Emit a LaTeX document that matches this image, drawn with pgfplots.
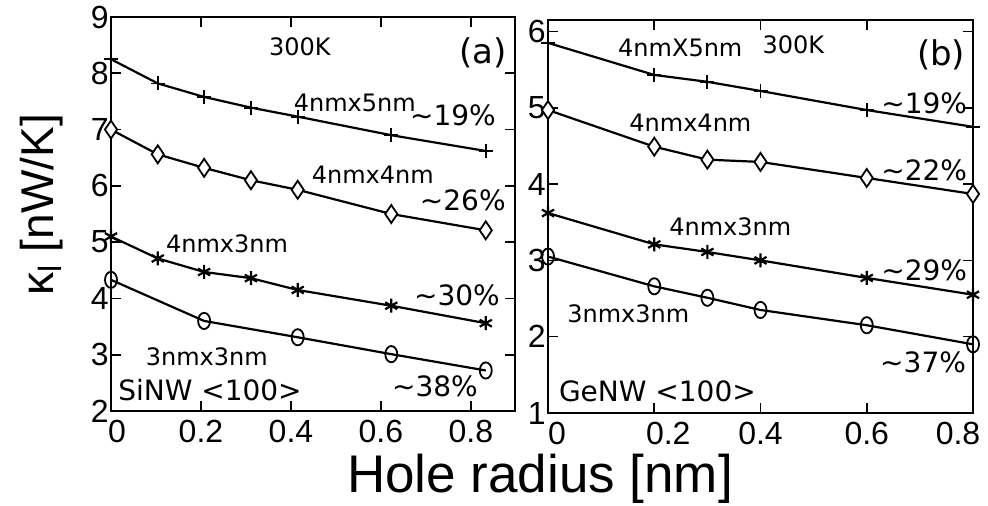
\documentclass[border=0pt]{standalone}
\usepackage{pgfplots}
\pgfplotsset{compat=1.18}
\usepackage{fontspec}
\setmainfont{Liberation Sans}
\newfontfamily\dv{DejaVu Sans}

\pgfplotsset{
  panel/.style={scale only axis, clip=false,
    axis line style={line width=1pt}, tick style={black, line width=0.8pt},
    major tick length=5pt,
    tick label style={font=\fontsize{16}{16}\selectfont},
    yticklabel style={inner sep=1pt},
    xticklabel style={inner sep=0.5pt, yshift=-4pt},
    /pgf/number format/assume math mode=true,
    xtick={0,0.2,0.4,0.6,0.8}},
  pl/.style={black, line width=1.1pt},
  mk/.style={mark options={solid, line width=0.9pt, fill=white, #1}},
  mk/.default={},
}
\tikzset{
  ann/.style={font=\dv\fontsize{12}{12}\selectfont},
  pct/.style={font=\dv\fontsize{14}{14}\selectfont},
}
\newcommand{\gap}[1]{\rule{#1}{0pt}}

\begin{document}
\begin{tikzpicture}
\useasboundingbox (0,0) rectangle (494pt,-253pt);

% (a) SiNW
\begin{axis}[panel, at={(55.5pt,-205.5pt)}, anchor=south west,
  width=202pt, height=197pt, xmin=0, xmax=0.898, ymin=2, ymax=9, ytick={2,3,...,9},
  xticklabels={\gap{6pt}0,0.2,0.4,0.6,0.8}]
\addplot[pl, mark=+, mark size=3.5pt, mk] coordinates {(0,8.25) (0.104,7.82) (0.207,7.58) (0.311,7.39) (0.415,7.23) (0.623,6.90) (0.833,6.62)};
\addplot[pl, mark=diamond*, mark size=4.5pt, mk={xscale=0.9}] coordinates {(0,7.00) (0.104,6.56) (0.207,6.32) (0.311,6.10) (0.415,5.93) (0.623,5.50) (0.833,5.21)};
\addplot[pl, mark=asterisk, mark size=3.5pt, mk={line width=1.1pt}] coordinates {(0,5.10) (0.104,4.71) (0.207,4.47) (0.311,4.36) (0.415,4.15) (0.623,3.87) (0.833,3.56)};
\addplot[pl, mark=o, mark size=3pt, mk={yscale=1.35}] coordinates {(0,4.33) (0.207,3.60) (0.415,3.31) (0.623,3.01) (0.833,2.72)};
\node[ann] at (0.42,8.47) {300K};
\node[font=\dv\fontsize{17}{17}\selectfont] at (0.827,8.36) {(a)};
\node[ann] at (0.542,7.47) {4nmx5nm};
\node[pct] at (0.76,7.26) {\textasciitilde19\%};
\node[ann] at (0.582,6.19) {4nmx4nm};
\node[pct] at (0.782,5.75) {\textasciitilde26\%};
\node[ann] at (0.258,4.97) {4nmx3nm};
\node[pct] at (0.769,4.06) {\textasciitilde30\%};
\node[ann] at (0.213,2.96) {3nmx3nm};
\node[pct] at (0.22,2.37) {SiNW <100>};
\node[pct] at (0.72,2.43) {\textasciitilde38\%};
\end{axis}

% (b) GeNW
\begin{axis}[panel, at={(274pt,-206.5pt)}, anchor=south west,
  width=212.5pt, height=196.5pt, xmin=0, xmax=0.8, ymin=1, ymax=6.15, ytick={1,2,...,6},
  xticklabels={\gap{9pt}0,\gap{14pt}0.2,0.4,0.6,0.8\gap{15pt}}]
\addplot[pl, mark=+, mark size=3.5pt, mk] coordinates {(0,5.85) (0.2,5.43) (0.3,5.34) (0.4,5.22) (0.6,4.97) (0.8,4.75)};
\addplot[pl, mark=diamond*, mark size=4.5pt, mk={xscale=0.9}] coordinates {(0,4.97) (0.2,4.49) (0.3,4.32) (0.4,4.29) (0.6,4.08) (0.8,3.87)};
\addplot[pl, mark=asterisk, mark size=3.5pt, mk={line width=1.1pt}] coordinates {(0,3.62) (0.2,3.21) (0.3,3.11) (0.4,3.00) (0.6,2.77) (0.8,2.55)};
\addplot[pl, mark=o, mark size=3pt, mk={yscale=1.35}] coordinates {(0,3.05) (0.2,2.66) (0.3,2.51) (0.4,2.35) (0.6,2.15) (0.8,1.90)};
\node[ann] at (0.249,5.78) {4nmX5nm};
\node[ann] at (0.462,5.82) {300K};
\node[font=\dv\fontsize{17}{17}\selectfont] at (0.74,5.69) {(b)};
\node[pct] at (0.708,5.06) {\textasciitilde19\%};
\node[ann] at (0.268,4.80) {4nmx4nm};
\node[pct] at (0.708,4.18) {\textasciitilde22\%};
\node[ann] at (0.343,3.44) {4nmx3nm};
\node[pct] at (0.708,2.87) {\textasciitilde29\%};
\node[ann] at (0.151,2.30) {3nmx3nm};
\node[pct] at (0.706,1.66) {\textasciitilde37\%};
\node[pct] at (0.206,1.28) {GeNW <100>};
\end{axis}

\node[font=\fontsize{26.5}{26.5}\selectfont, inner sep=0pt] at (270pt,-239.5pt) {Hole radius [nm]};
\node[font=\fontsize{23}{23}\selectfont, rotate=90, inner sep=0pt] at (21pt,-102.5pt) {κ\textsubscript{l} [nW/K]};
\end{tikzpicture}
\end{document}
